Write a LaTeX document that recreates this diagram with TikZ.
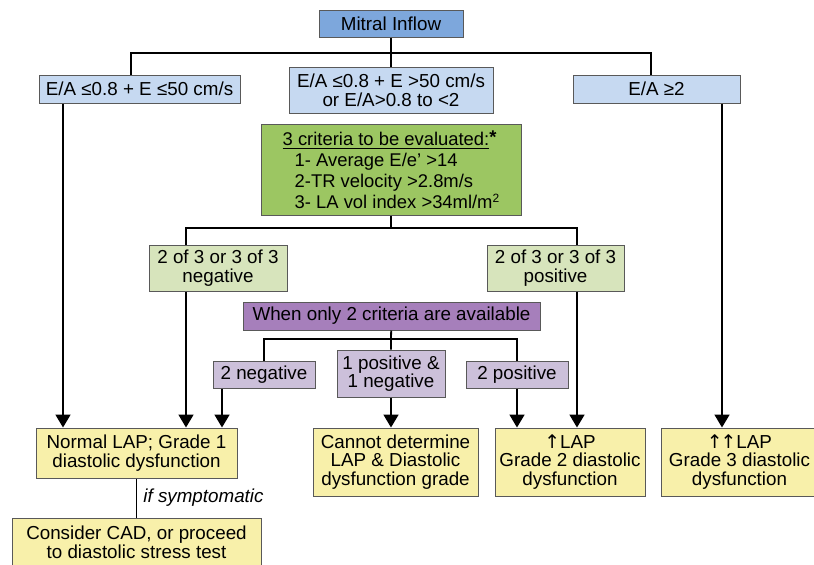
\documentclass[tikz,border=0pt]{standalone}
\usepackage{fontspec}
\setmainfont{Liberation Sans}
\newfontfamily\arrowfont{DejaVu Sans}
\usetikzlibrary{arrows.meta}

\definecolor{mitralblue}{RGB}{125,167,220}
\definecolor{paleblue}{RGB}{198,217,241}
\definecolor{critgreen}{RGB}{156,198,98}
\definecolor{palegreen}{RGB}{215,228,188}
\definecolor{darkpurple}{RGB}{166,127,187}
\definecolor{palepurple}{RGB}{204,192,218}
\definecolor{paleyellow}{RGB}{248,240,170}

\newcommand{\uparr}{{\arrowfont ↑}}

\begin{document}
\begin{tikzpicture}[
        x=0.5pt, y=-0.5pt,
        box/.style={draw=black!65, line width=0.5pt, inner sep=0pt, align=center,
            font=\fontsize{9.4}{9.3}\selectfont},
        line/.style={draw=black, line width=0.9pt},
        arrow/.style={line, -{Triangle[width=7.5pt, length=6.5pt]}}
    ]
        \useasboundingbox (0, 0) rectangle (814, 564);
        \clip (0, 0) rectangle (814, 564);

        \node[box, fill=mitralblue, minimum width=72pt, minimum height=13.5pt] (mitral) at (391, 23.5) {Mitral Inflow};

        \node[box, fill=paleblue, minimum width=100.5pt, minimum height=14pt] (eaLow) at (139.5, 89) {E/A ≤0.8 + E ≤50 cm/s};
        \node[box, fill=paleblue, minimum width=102pt, minimum height=23pt] (eaMid) at (391, 90) {E/A ≤0.8 + E >50 cm/s\\or E/A>0.8 to <2};
        \node[box, fill=paleblue, minimum width=83.5pt, minimum height=14pt] (eaHigh) at (656.5, 89) {E/A ≥2};

        \node[box, fill=critgreen, minimum width=130pt, minimum height=45.5pt, align=left,
            font=\fontsize{9.2}{10.5}\selectfont] (criteria) at (391, 169.5)
            {\underline{3 criteria to be evaluated:}\raisebox{1pt}{\bfseries *}\\
             \hspace*{6pt}1- Average E/e’ >14\\
             \hspace*{6pt}2-TR velocity >2.8m/s\\
             \hspace*{6pt}3- LA vol index >34ml/m\raisebox{3pt}{\fontsize{6}{6}\selectfont 2}};

        \node[box, fill=palegreen, minimum width=69pt, minimum height=23pt] (negAll) at (218, 268) {2 of 3 or 3 of 3\\negative};
        \node[box, fill=palegreen, minimum width=68.5pt, minimum height=23pt] (posAll) at (555.5, 268) {2 of 3 or 3 of 3\\positive};

        \node[box, fill=darkpurple, minimum width=148.5pt, minimum height=14pt] (twoCrit) at (391.5, 316) {When only 2 criteria are available};
        \node[box, fill=palepurple, minimum width=51pt, minimum height=13.5pt] (twoNeg) at (264, 374.5) {2 negative};
        \node[box, fill=palepurple, minimum width=54pt, minimum height=23.5pt] (mixed) at (391, 373.5) {1 positive \&\\1 negative};
        \node[box, fill=palepurple, minimum width=51pt, minimum height=13.5pt] (twoPos) at (517, 374.5) {2 positive};

        \node[box, fill=paleyellow, minimum width=100.5pt, minimum height=25pt] (normal) at (136.5, 453) {Normal LAP; Grade 1\\diastolic dysfunction};
        \node[box, fill=paleyellow, minimum width=82.5pt, minimum height=34pt] (cannot) at (395.5, 462) {Cannot determine\\LAP \& Diastolic\\dysfunction grade};
        \node[box, fill=paleyellow, minimum width=75pt, minimum height=34pt] (grade2) at (570, 462) {\uparr LAP\\Grade 2 diastolic\\dysfunction};
        \node[box, fill=paleyellow, minimum width=78.5pt, minimum height=34pt] (grade3) at (739.5, 462) {\uparr\kern-1pt\uparr LAP\\Grade 3 diastolic\\dysfunction};
        \node[box, fill=paleyellow, minimum width=124.5pt, minimum height=24.5pt] (consider) at (136.5, 542.5) {Consider CAD, or proceed\\to diastolic stress test};

        \coordinate (topSplit) at (391, 53);
        \coordinate (midSplit) at (391, 228);
        \coordinate (critSplit) at (391, 339);

        \draw[line] (mitral) -- (topSplit) -- (eaMid);
        \draw[line] ([xshift=-4.25pt]eaLow.north) |- (topSplit) -| ([xshift=-2.75pt]eaHigh.north);

        \draw[line] (criteria) -- (midSplit);
        \draw[line] ([xshift=-16pt]negAll.north) |- (midSplit) -| ([xshift=10.75pt]posAll.north);

        \draw[line] (twoCrit) -- (critSplit) -- (mixed);
        \draw[line] (twoNeg.north) |- (critSplit) -| (twoPos.north);

        \draw[arrow] ([xshift=-38.25pt]eaLow.south) -- ([xshift=-38.25pt]eaLow.south |- normal.north);
        \draw[arrow] ([xshift=-16pt]negAll.south) -- ([xshift=-16pt]negAll.south |- normal.north);
        \draw[arrow] ([xshift=-21pt]twoNeg.south) -- ([xshift=-21pt]twoNeg.south |- normal.north);
        \draw[arrow] (mixed.south) -- (mixed.south |- cannot.north);
        \draw[arrow] (twoPos.south) -- (twoPos.south |- grade2.north);
        \draw[arrow] ([xshift=10.75pt]posAll.south) -- ([xshift=10.75pt]posAll.south |- grade2.north);
        \draw[arrow] ([xshift=32.75pt]eaHigh.south) -- ([xshift=32.75pt]eaHigh.south |- grade3.north);

        \draw[line] (normal) -- node[right, inner sep=3pt, font=\fontsize{9.4}{9.3}\selectfont\itshape] {if symptomatic} (consider);
    \end{tikzpicture}
\end{document}
